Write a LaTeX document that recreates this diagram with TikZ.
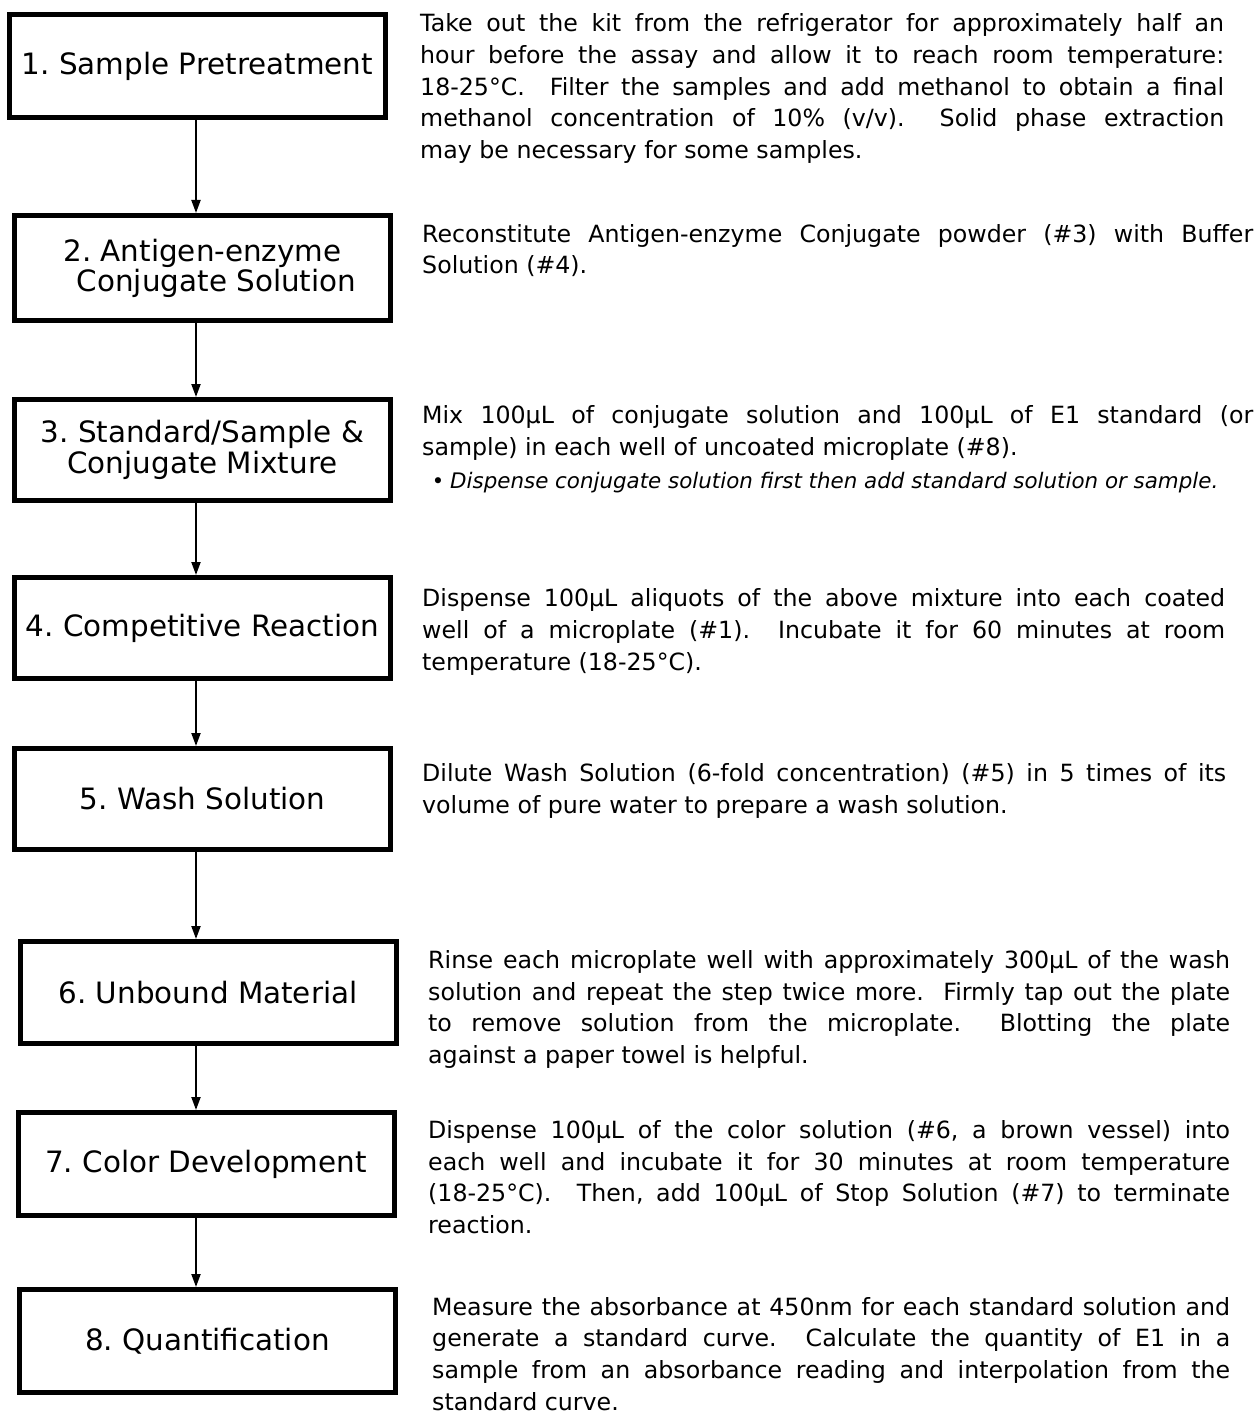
\documentclass[tikz,border=0pt]{standalone}
\usepackage{fontspec}
\setmainfont{DejaVu Sans}
\usetikzlibrary{arrows.meta}
\newcommand{\jl}[1]{\makebox[\linewidth][s]{#1}\\}
\frenchspacing
\begin{document}
\begin{tikzpicture}[x=1pt,y=-1pt,
  stepbox/.style={draw=black, line width=5pt, minimum width=376pt, inner sep=0pt,
    align=center, font=\fontsize{29.4}{31}\selectfont},
  flow/.style={line width=2pt, -{Triangle[width=9pt,length=13pt]}},
  desc/.style={anchor=base west, inner sep=0pt, font=\fontsize{23.7}{31.7}\selectfont},
  note/.style={anchor=base west, inner sep=0pt, font=\fontsize{21.4}{21.4}\selectfont\itshape}]
\useasboundingbox (0,0) rectangle (1255,1412);
\fill[white] (0,0) rectangle (1255,1412);

% step boxes
\node[stepbox, minimum height=103pt] (b1) at (197.5,66) {1. Sample Pretreatment};
\node[stepbox, minimum height=105pt, font=\fontsize{29.4}{30}\selectfont] (b2) at (202.5,268)
  {2. Antigen-enzyme\\\hspace*{28pt}Conjugate Solution};
\node[stepbox, minimum height=101pt] (b3) at (202.5,450) {3. Standard/Sample \&\\Conjugate Mixture};
\node[stepbox, minimum height=101pt] (b4) at (202.5,628) {4. Competitive Reaction};
\node[stepbox, minimum height=101pt] (b5) at (202.5,799) {5. Wash Solution};
\node[stepbox, minimum height=102pt] (b6) at (208,992.5) {6. Unbound Material};
\node[stepbox, minimum height=103pt] (b7) at (206,1164) {7. Color Development};
\node[stepbox, minimum height=103pt] (b8) at (207.5,1341) {8. Quantification};

% connectors
\coordinate (ax) at (196,0);
\draw[flow] (b1.south -| ax) -- (b2.north -| ax);
\draw[flow] (b2.south -| ax) -- (b3.north -| ax);
\draw[flow] (b3.south -| ax) -- (b4.north -| ax);
\draw[flow] (b4.south -| ax) -- (b5.north -| ax);
\draw[flow] (b5.south -| ax) -- (b6.north -| ax);
\draw[flow] (b6.south -| ax) -- (b7.north -| ax);
\draw[flow] (b7.south -| ax) -- (b8.north -| ax);

% descriptions
\node[desc] (t1) at (420,31.7) {\parbox[t]{804pt}{%
\jl{Take out the kit from the refrigerator for approximately half an}
\jl{hour before the assay and allow it to reach room temperature:}
\jl{18-25°C.\ \ Filter the samples and add methanol to obtain a final}
\jl{methanol concentration of 10\% (v/v).\ \ Solid phase extraction}
may be necessary for some samples.}};

\node[desc] (t2) at (422,242.3) {\parbox[t]{831pt}{%
\jl{Reconstitute Antigen-enzyme Conjugate powder (\#3) with Buffer}
Solution (\#4).}};

\node[desc] (t3) at (422,423.3) {\parbox[t]{831pt}{%
\jl{Mix 100µL of conjugate solution and 100µL of E1 standard (or}
sample) in each well of uncoated microplate (\#8).}};
\node[note, anchor=base, font=\fontsize{21}{21}\selectfont] (bul) at (438,488.3) {•};
\node[note] (t3n) at (450,488.3) {Dispense conjugate solution first then add standard solution or sample.};

\node[desc] (t4) at (422,606.7) {\parbox[t]{803pt}{%
\jl{Dispense 100µL aliquots of the above mixture into each coated}
\jl{well of a microplate (\#1).\ \ Incubate it for 60 minutes at room}
temperature (18-25°C).}};

\node[desc] (t5) at (422,781.7) {\parbox[t]{804pt}{%
\jl{Dilute Wash Solution (6-fold concentration) (\#5) in 5 times of its}
volume of pure water to prepare a wash solution.}};

\node[desc] (t6) at (428,968.3) {\parbox[t]{802pt}{%
\jl{Rinse each microplate well with approximately 300µL of the wash}
\jl{solution and repeat the step twice more.\ \ Firmly tap out the plate}
\jl{to remove solution from the microplate.\ \ Blotting the plate}
against a paper towel is helpful.}};

\node[desc] (t7) at (428,1138.3) {\parbox[t]{802pt}{%
\jl{Dispense 100µL of the color solution (\#6, a brown vessel) into}
\jl{each well and incubate it for 30 minutes at room temperature}
\jl{(18-25°C).\ \ Then, add 100µL of Stop Solution (\#7) to terminate}
reaction.}};

\node[desc] (t8) at (432,1315) {\parbox[t]{798pt}{%
\jl{Measure the absorbance at 450nm for each standard solution and}
\jl{generate a standard curve.\ \ Calculate the quantity of E1 in a}
\jl{sample from an absorbance reading and interpolation from the}
standard curve.}};
\end{tikzpicture}
\end{document}
